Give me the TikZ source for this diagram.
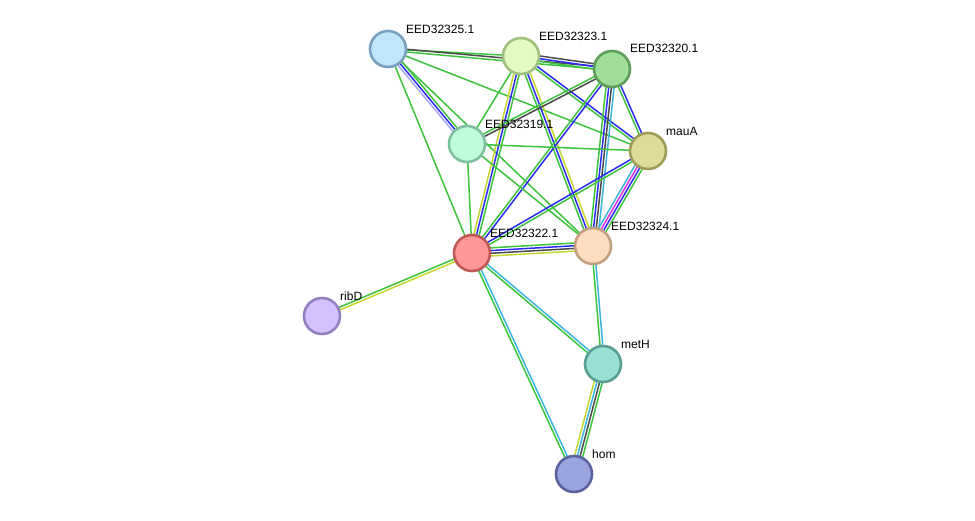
\documentclass[tikz,border=0pt]{standalone}
\usepackage{fontspec}
\setmainfont{Liberation Sans}
\usetikzlibrary{calc}
\pgfdeclarelayer{back}
\pgfdeclarelayer{bg}
\pgfsetlayers{back,bg,main}
\definecolor{grn}{HTML}{3CC43C}
\definecolor{blu}{HTML}{2B2BF5}
\definecolor{blk}{HTML}{4A4A4A}
\definecolor{cyn}{HTML}{3BB5DC}
\definecolor{yel}{HTML}{C6D630}
\definecolor{mag}{HTML}{E030E0}
\definecolor{lav}{HTML}{A8A8F8}
\tikzset{
  prot/.style={circle,minimum size=36pt,inner sep=0pt,line width=2.6pt},
  lbl/.style={anchor=base west,font=\fontsize{12}{14}\selectfont,inner sep=0pt},
  edge/.style={line width=1.5pt}
}
\newcommand\bund[3]{%
  \foreach \c [count=\n] in {#3} {\xdef\bn{\n}}%
  \foreach \c [count=\i] in {#3} {%
    \pgfmathsetmacro\off{(\i-(\bn+1)/2)*2.7}%
    \draw[edge,\c] ($(#1.center)!\off pt!90:(#2.center)$) -- ($(#2.center)!\off pt!-90:(#1.center)$);
  }}
\begin{document}
\begin{tikzpicture}[x=1pt,y=-1pt]
\begin{pgfonlayer}{back}
\fill[white] (0,0) rectangle (975,520);
\end{pgfonlayer}
\useasboundingbox (0,0) rectangle (975,520);
% nodes
\node[prot,fill={rgb,255:red,192;green,230;blue,252},draw={rgb,255:red,122;green,162;blue,192}] (n25) at (388,49) {};
\node[prot,fill={rgb,255:red,224;green,252;blue,192},draw={rgb,255:red,160;green,192;blue,128}] (n23) at (521,56) {};
\node[prot,fill={rgb,255:red,158;green,222;blue,150},draw={rgb,255:red,95;green,158;blue,90}] (n20) at (612,69) {};
\node[prot,fill={rgb,255:red,192;green,252;blue,220},draw={rgb,255:red,128;green,192;blue,160}] (n19) at (467,144) {};
\node[prot,fill={rgb,255:red,222;green,220;blue,152},draw={rgb,255:red,158;green,156;blue,88}] (mauA) at (648,151) {};
\node[prot,fill={rgb,255:red,254;green,152;blue,152},draw={rgb,255:red,192;green,88;blue,88}] (n22) at (472,253) {};
\node[prot,fill={rgb,255:red,253;green,221;blue,192},draw={rgb,255:red,192;green,160;blue,128}] (n24) at (593,246) {};
\node[prot,fill={rgb,255:red,212;green,192;blue,252},draw={rgb,255:red,148;green,128;blue,192}] (ribD) at (322,316) {};
\node[prot,fill={rgb,255:red,153;green,224;blue,212},draw={rgb,255:red,90;green,158;blue,148}] (metH) at (603,364) {};
\node[prot,fill={rgb,255:red,154;green,164;blue,222},draw={rgb,255:red,90;green,98;blue,160}] (hom) at (574,474) {};
% labels
\node[lbl] (l25) at (406,33) {EED32325.1};
\node[lbl] (l23) at (539,40) {EED32323.1};
\node[lbl] (l20) at (630,52) {EED32320.1};
\node[lbl] (l19) at (485,128) {EED32319.1};
\node[lbl] (lmauA) at (666,135) {mauA};
\node[lbl] (l22) at (490,237) {EED32322.1};
\node[lbl] (l24) at (611,230) {EED32324.1};
\node[lbl] (lribD) at (340,300) {ribD};
\node[lbl] (lmetH) at (621,348) {metH};
\node[lbl] (lhom) at (592,458) {hom};
% edges
\begin{pgfonlayer}{bg}
\bund{n25}{n23}{grn}
\bund{n25}{n20}{grn,blk}
\bund{n25}{n19}{lav,blu,grn}
\bund{n25}{n22}{grn}
\bund{n25}{n24}{grn}
\bund{n25}{mauA}{grn}
\bund{n23}{n20}{grn,blu,blk}
\bund{n23}{n19}{grn}
\bund{n23}{n22}{yel,blu,grn}
\bund{n23}{n24}{grn,blu,yel}
\bund{n23}{mauA}{grn,blu}
\bund{n20}{n19}{grn,blk}
\bund{n20}{n22}{grn,blu}
\bund{n20}{n24}{grn,blu,blk,cyn}
\bund{n20}{mauA}{grn,blu}
\bund{n19}{mauA}{grn}
\bund{n19}{n22}{grn}
\bund{n19}{n24}{grn}
\bund{n22}{n24}{yel,blk,blu,grn}
\bund{n22}{mauA}{grn,blu}
\bund{n24}{mauA}{grn,blu,mag,cyn}
\bund{n22}{ribD}{grn,yel}
\bund{n22}{metH}{grn,cyn}
\bund{n22}{hom}{grn,cyn}
\bund{n24}{metH}{grn,cyn}
\bund{metH}{hom}{yel,cyn,blk,grn}
\end{pgfonlayer}
\end{tikzpicture}
\end{document}
